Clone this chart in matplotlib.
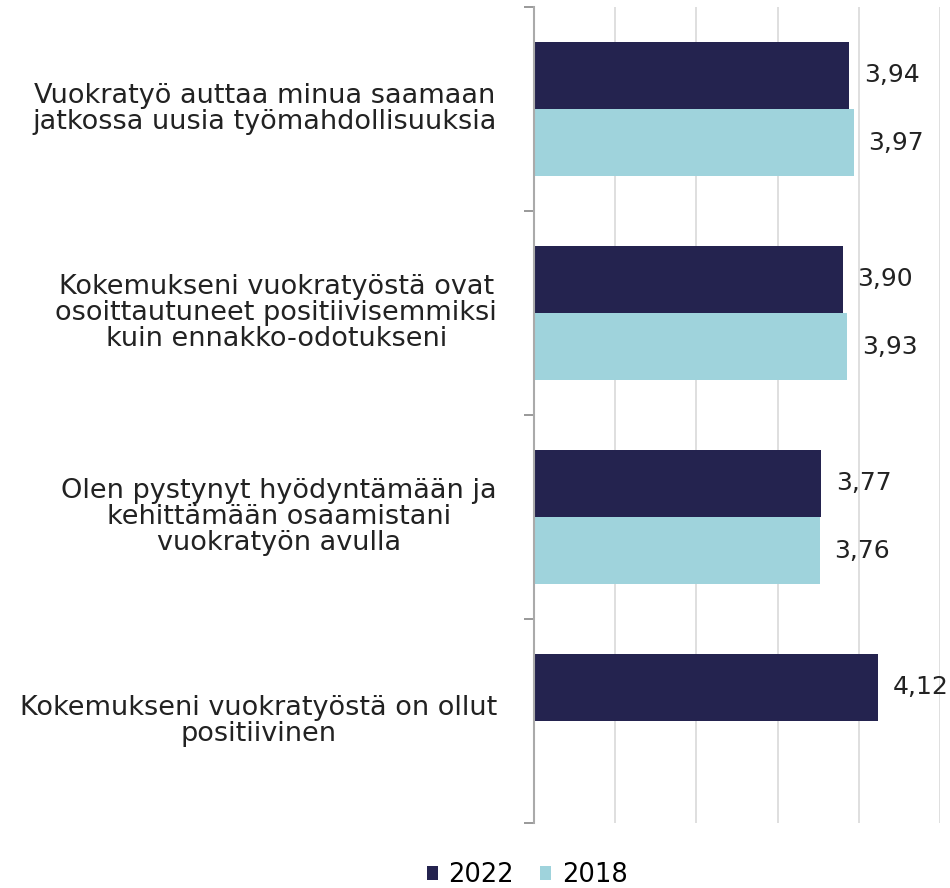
import numpy as np
import matplotlib.pyplot as plt

plt.rcParams['font.family'] = ['DejaVu Sans']

# Data
categories = [
    "Vuokratyö auttaa minua saamaan\njatkossa uusia työmahdollisuuksia",
    "Kokemukseni vuokratyöstä ovat\nosoittautuneet positiivisemmiksi\nkuin ennakko-odotukseni",
    "Olen pystynyt hyödyntämään ja\nkehittämään osaamistani\nvuokratyön avulla",
    "Kokemukseni vuokratyöstä on ollut\npositiivinen",
]
values_2022 = [3.94, 3.90, 3.77, 4.12]
values_2018 = [3.97, 3.93, 3.76, np.nan]
series_names = ["2022", "2018"]

c2022 = "#24234f"
c2018 = "#9fd3dc"

fig = plt.figure(figsize=(9.5, 8.88), dpi=100)
ax = fig.add_axes([534/950, 1 - 823/888, (940-534)/950, (823-7)/888])

y = np.arange(len(categories))
h = 0.33
ax.barh(y - h/2, values_2022, height=h, color=c2022, label=series_names[0], zorder=2)
ax.barh(y + h/2, values_2018, height=h, color=c2018, label=series_names[1], zorder=2)

for i, v in enumerate(values_2022):
    ax.text(v + 0.09, y[i] - h/2, f"{v:.2f}".replace(".", ","), va="center", ha="left",
            fontsize=18, color="#222222")
for i, v in enumerate(values_2018):
    if not np.isnan(v):
        ax.text(v + 0.09, y[i] + h/2, f"{v:.2f}".replace(".", ","), va="center", ha="left",
                fontsize=18, color="#222222")

ax.set_xlim(2, 4.5)
ax.set_ylim(len(categories) - 0.5, -0.5)
ax.set_xticks([2.5, 3, 3.5, 4, 4.5])
ax.xaxis.grid(True, color="#d9d9d9", linewidth=1.2, zorder=0)
ax.tick_params(axis="x", length=0, labelbottom=False)

# group boundary ticks on the y-axis
ax.set_yticks(np.arange(-0.5, len(categories), 1.0))
ax.set_yticklabels([])
ax.tick_params(axis="y", direction="out", length=7, color="#888888", width=1.2)
for i, cat in enumerate(categories):
    ax.text((497 - 534) / 406, 1 - (i + 0.5) / len(categories), cat, transform=ax.transAxes,
            ha="right", va="center", multialignment="center", fontsize=19.5,
            linespacing=1.0, color="#222222")

for s in ["top", "right", "bottom"]:
    ax.spines[s].set_visible(False)
ax.spines["left"].set_color("#aaaaaa")
ax.spines["left"].set_linewidth(1.5)

fig.legend(loc="center", bbox_to_anchor=(527/950, 1 - 875/888), ncol=2, frameon=False,
           fontsize=18.5, handlelength=0.45, handleheight=0.45, handletextpad=0.4,
           columnspacing=1.0)

fig.savefig("out.png", dpi=100)
